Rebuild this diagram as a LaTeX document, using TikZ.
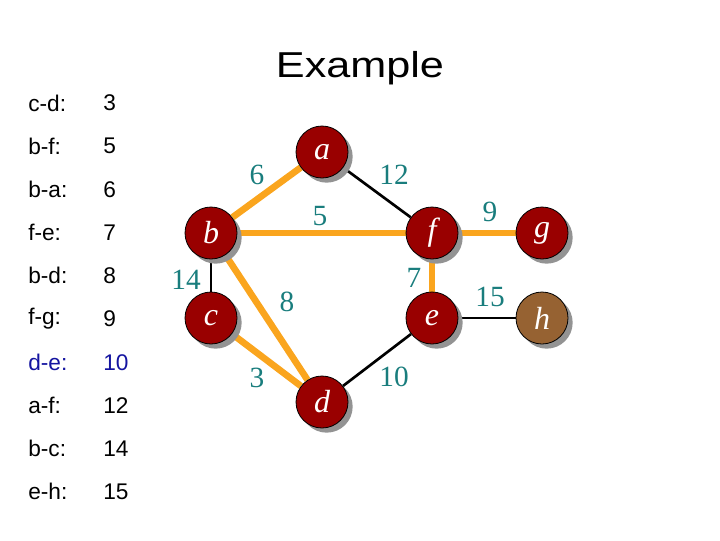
\documentclass[tikz,border=0pt]{standalone}
\usepackage{fontspec}
\setmainfont{Liberation Serif}
\setsansfont{Liberation Sans}
\usetikzlibrary{shadows,backgrounds}
\definecolor{vred}{RGB}{153,0,0}
\definecolor{vbrown}{RGB}{150,98,50}
\definecolor{tree}{RGB}{250,165,30}
\definecolor{wcol}{RGB}{25,125,125}
\definecolor{listblue}{RGB}{20,20,160}
\tikzset{
  vertex/.style={circle,draw=black,line width=0.6pt,fill=vred,minimum size=39pt,inner sep=0pt,
    text=white,font=\fontsize{24}{26}\selectfont\itshape,
    drop shadow={shadow xshift=3.5pt,shadow yshift=-3.5pt,fill=gray!85,opacity=1}},
  treeedge/.style={draw=tree,line width=5pt},
  otheredge/.style={draw=black,line width=2pt},
  weight/.style={text=wcol,inner sep=0pt,font=\fontsize{22}{24}\selectfont},
  item/.style={anchor=west,inner sep=0pt,font=\sffamily\fontsize{17}{19}\selectfont}
}
\begin{document}
\begin{tikzpicture}[x=0.75pt,y=-0.75pt]
  \useasboundingbox (0,0) rectangle (720,540);
  \node (title) at (360,68) [font=\sffamily\fontsize{27}{30}\selectfont,xscale=1.2] {Example};
  \foreach \e/\w/\c [count=\i] in {c-d/3/black,b-f/5/black,b-a/6/black,f-e/7/black,b-d/8/black,
      f-g/9/black,d-e/10/listblue,a-f/12/black,b-c/14/black,e-h/15/black} {
    \node (k\i) at (28,{103+(\i-1)*43.2}) [item,text=\c] {\e:};
    \node (v\i) at (103,{103+(\i-1)*43.2}) [item,text=\c] {\w};
  }
  \node (a) at (322,152) [vertex] {a};
  \node (b) at (211,233) [vertex] {b};
  \node (c) at (211,318) [vertex] {c};
  \node (d) at (322,402) [vertex] {d};
  \node (f) at (432,233) [vertex] {f};
  \node (e) at (432,318) [vertex] {e};
  \node (g) at (542,233) [vertex] {g};
  \node (h) at (542,318) [vertex,fill=vbrown] {h};
  \begin{scope}[on background layer]
    \draw[treeedge] (b) -- (a);
    \draw[treeedge] (b) -- (f);
    \draw[treeedge] (f) -- (e);
    \draw[treeedge] (b) -- (d);
    \draw[treeedge] (c) -- (d);
    \draw[treeedge] (f) -- (g);
    \draw[otheredge] (a) -- (f);
    \draw[otheredge] (b) -- (c);
    \draw[otheredge] (d) -- (e);
    \draw[otheredge] (e) -- (h);
  \end{scope}
  \node (w6) at (257,175) [weight] {6};
  \node (w12) at (394,175) [weight] {12};
  \node (w5) at (320,216) [weight] {5};
  \node (w14) at (186,280) [weight] {14};
  \node (w8) at (287,302) [weight] {8};
  \node (w7) at (414,278) [weight] {7};
  \node (w3) at (257,378) [weight] {3};
  \node (w10) at (394,377) [weight] {10};
  \node (w9) at (490,212) [weight] {9};
  \node (w15) at (490,297) [weight] {15};
\end{tikzpicture}
\end{document}
